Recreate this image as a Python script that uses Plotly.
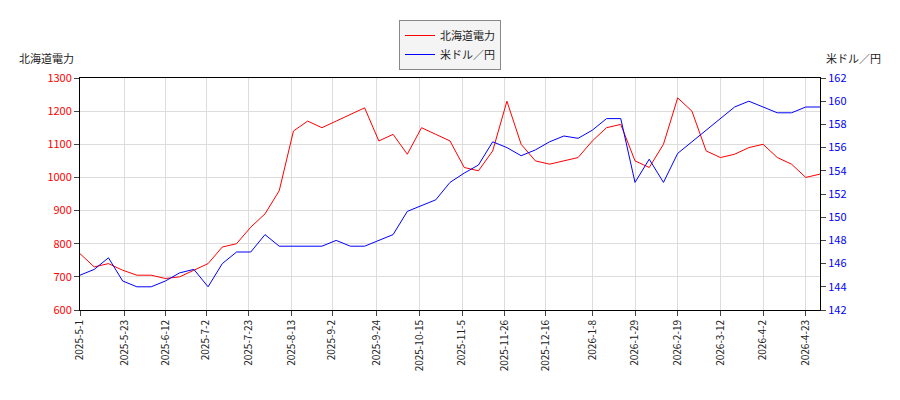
import plotly.graph_objects as go
import pandas as pd

dates = pd.date_range("2025-05-01", periods=53, freq="7D")
hepco = [770, 730, 740, 720, 705, 705, 695, 700, 720, 740, 790, 800, 850, 890, 960, 1140,
         1170, 1150, 1170, 1190, 1210, 1110, 1130, 1070, 1150, 1130, 1110, 1030, 1020, 1080,
         1230, 1100, 1050, 1040, 1050, 1060, 1110, 1150, 1160, 1050, 1030, 1100, 1240, 1200,
         1080, 1060, 1070, 1090, 1100, 1060, 1040, 1000, 1010]
usdjpy = [145.0, 145.5, 146.5, 144.5, 144.0, 144.0, 144.5, 145.2, 145.5, 144.0, 146.0, 147.0,
          147.0, 148.5, 147.5, 147.5, 147.5, 147.5, 148.0, 147.5, 147.5, 148.0, 148.5, 150.5,
          151.0, 151.5, 153.0, 153.8, 154.5, 156.5, 156.0, 155.3, 155.8, 156.5, 157.0, 156.8,
          157.5, 158.5, 158.5, 153.0, 155.0, 153.0, 155.5, 156.5, 157.5, 158.5, 159.5, 160.0,
          159.5, 159.0, 159.0, 159.5, 159.5]
tick_dates = ["2025-05-01", "2025-05-23", "2025-06-12", "2025-07-02", "2025-07-23", "2025-08-13",
              "2025-09-02", "2025-09-24", "2025-10-15", "2025-11-05", "2025-11-26", "2025-12-16",
              "2026-01-08", "2026-01-29", "2026-02-19", "2026-03-12", "2026-04-02", "2026-04-23"]
tick_text = ["2025-5-1", "2025-5-23", "2025-6-12", "2025-7-2", "2025-7-23", "2025-8-13",
             "2025-9-2", "2025-9-24", "2025-10-15", "2025-11-5", "2025-11-26", "2025-12-16",
             "2026-1-8", "2026-1-29", "2026-2-19", "2026-3-12", "2026-4-2", "2026-4-23"]

fig = go.Figure()
fig.add_trace(go.Scatter(x=dates, y=hepco, name="北海道電力", line=dict(color="red", width=1)))
fig.add_trace(go.Scatter(x=dates, y=usdjpy, name="米ドル／円", yaxis="y2",
                         line=dict(color="blue", width=1)))

grid = "#dddddd"
fig.update_layout(
    width=900, height=400, plot_bgcolor="white", paper_bgcolor="white",
    margin=dict(l=72, r=88, t=62, b=98),
    font=dict(family="Noto Sans CJK JP", size=11, color="#222"),
    legend=dict(x=0.5, xanchor="center", y=1.25, yanchor="top", bordercolor="#888",
                borderwidth=1, bgcolor="#f4f4f4"),
    xaxis=dict(range=["2025-05-01", "2026-04-30"], tickvals=tick_dates, ticktext=tick_text,
               tickangle=-90, gridcolor=grid, showline=True, linecolor="black", mirror=True,
               ticks="outside", tickfont=dict(size=10)),
    yaxis=dict(range=[600, 1300], dtick=100, gridcolor=grid, showline=True, linecolor="black",
               ticks="outside", tickfont=dict(color="red")),
    yaxis2=dict(range=[142, 162], dtick=2, overlaying="y", side="right", showgrid=False,
                showline=True, linecolor="black", ticks="outside", tickfont=dict(color="blue")),
    annotations=[
        dict(text="北海道電力", xref="paper", yref="paper", x=-0.085, y=1.13, showarrow=False,
             xanchor="left"),
        dict(text="米ドル／円", xref="paper", yref="paper", x=1.085, y=1.13, showarrow=False,
             xanchor="right"),
    ],
)
fig.write_html("out.html")
